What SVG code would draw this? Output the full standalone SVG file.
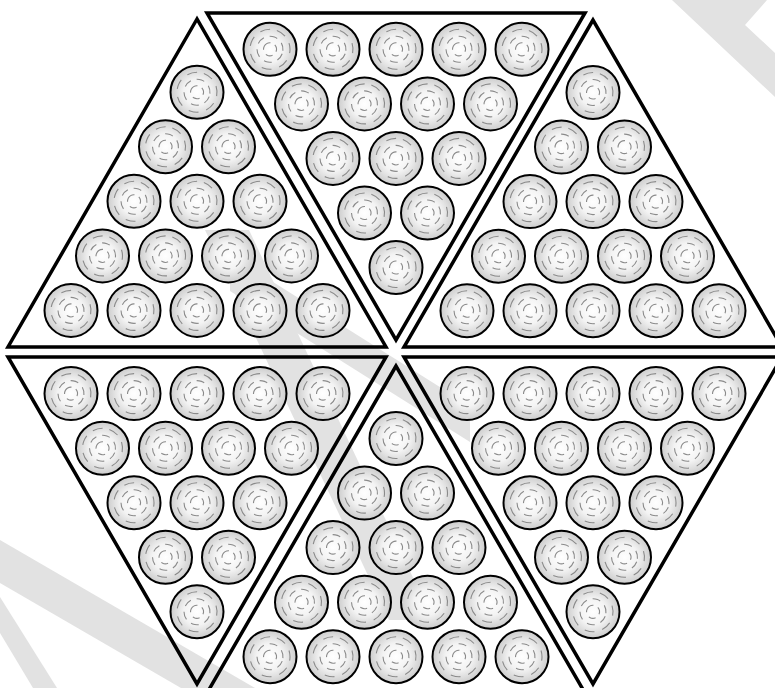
<svg xmlns="http://www.w3.org/2000/svg" xmlns:xlink="http://www.w3.org/1999/xlink" width="775" height="688" viewBox="0 0 775 688">
<style>
.tri{fill:none;stroke:#000;stroke-width:3.5;stroke-linejoin:miter}
.disc{fill:url(#g);stroke:#000;stroke-width:2}
.ring{fill:none;stroke:#8a8a8a;stroke-width:1.1}
.wm{fill:#e2e2e2}
</style>
<defs>
<radialGradient id="g" cx="50%" cy="50%" r="50%">
<stop offset="0" stop-color="#ffffff"/>
<stop offset="0.5" stop-color="#f3f3f3"/>
<stop offset="1" stop-color="#cdcdcd"/>
</radialGradient>
<symbol id="log" overflow="visible">
<circle class="disc" r="26.5"/>
<circle class="ring" r="20" stroke-dasharray="10 8" transform="rotate(-70)"/>
<circle class="ring" r="13" stroke-dasharray="8 6" transform="rotate(20)"/>
<circle class="ring" r="6.5" stroke-dasharray="7 5" transform="rotate(-150)"/>
</symbol>
</defs>
<rect width="775" height="688" fill="#fff"/>
<g id="watermark">
<polygon class="wm" points="0,540 255,688 181,688 0,583"/>
<polygon class="wm" points="0,597 57,688 33,688 0,633"/>
<polygon class="wm" points="672,0 767,0 745,25 775,53 775,97"/>
<polygon class="wm" points="205,230 249,230 433,620 389,620"/>
<polygon class="wm" points="230,255 470,406 470,442 230,291"/>
</g>
<g id="tri-top-left">
<polygon class="tri" points="197,19 8,347 386,347"/>
<use href="#log" x="197" y="92.2"/>
<use href="#log" x="165.5" y="146.8"/><use href="#log" x="228.5" y="146.8"/>
<use href="#log" x="134" y="201.3"/><use href="#log" x="197" y="201.3"/><use href="#log" x="260" y="201.3"/>
<use href="#log" x="102.5" y="255.9"/><use href="#log" x="165.5" y="255.9"/><use href="#log" x="228.5" y="255.9"/><use href="#log" x="291.5" y="255.9"/>
<use href="#log" x="71" y="310.4"/><use href="#log" x="134" y="310.4"/><use href="#log" x="197" y="310.4"/><use href="#log" x="260" y="310.4"/><use href="#log" x="323" y="310.4"/>
</g>
<g id="tri-top-middle">
<polygon class="tri" points="207,13 585,13 396,340"/>
<use href="#log" x="270" y="49.3"/><use href="#log" x="333" y="49.3"/><use href="#log" x="396" y="49.3"/><use href="#log" x="459" y="49.3"/><use href="#log" x="522" y="49.3"/>
<use href="#log" x="301.5" y="103.9"/><use href="#log" x="364.5" y="103.9"/><use href="#log" x="427.5" y="103.9"/><use href="#log" x="490.5" y="103.9"/>
<use href="#log" x="333" y="158.4"/><use href="#log" x="396" y="158.4"/><use href="#log" x="459" y="158.4"/>
<use href="#log" x="364.5" y="213"/><use href="#log" x="427.5" y="213"/>
<use href="#log" x="396" y="267.5"/>
</g>
<g id="tri-top-right">
<polygon class="tri" points="593,20 404,347 782,347"/>
<use href="#log" x="593" y="92.5"/>
<use href="#log" x="561.5" y="147.1"/><use href="#log" x="624.5" y="147.1"/>
<use href="#log" x="530" y="201.6"/><use href="#log" x="593" y="201.6"/><use href="#log" x="656" y="201.6"/>
<use href="#log" x="498.5" y="256.2"/><use href="#log" x="561.5" y="256.2"/><use href="#log" x="624.5" y="256.2"/><use href="#log" x="687.5" y="256.2"/>
<use href="#log" x="467" y="310.7"/><use href="#log" x="530" y="310.7"/><use href="#log" x="593" y="310.7"/><use href="#log" x="656" y="310.7"/><use href="#log" x="719" y="310.7"/>
</g>
<g id="tri-bottom-left">
<polygon class="tri" points="8,357 386,357 197,684"/>
<use href="#log" x="71" y="393.6"/><use href="#log" x="134" y="393.6"/><use href="#log" x="197" y="393.6"/><use href="#log" x="260" y="393.6"/><use href="#log" x="323" y="393.6"/>
<use href="#log" x="102.5" y="448.2"/><use href="#log" x="165.5" y="448.2"/><use href="#log" x="228.5" y="448.2"/><use href="#log" x="291.5" y="448.2"/>
<use href="#log" x="134" y="502.7"/><use href="#log" x="197" y="502.7"/><use href="#log" x="260" y="502.7"/>
<use href="#log" x="165.5" y="557.3"/><use href="#log" x="228.5" y="557.3"/>
<use href="#log" x="197" y="611.8"/>
</g>
<g id="tri-bottom-middle">
<polygon class="tri" points="396,366 207,693 585,693"/>
<use href="#log" x="396" y="438.5"/>
<use href="#log" x="364.5" y="493.1"/><use href="#log" x="427.5" y="493.1"/>
<use href="#log" x="333" y="547.6"/><use href="#log" x="396" y="547.6"/><use href="#log" x="459" y="547.6"/>
<use href="#log" x="301.5" y="602.2"/><use href="#log" x="364.5" y="602.2"/><use href="#log" x="427.5" y="602.2"/><use href="#log" x="490.5" y="602.2"/>
<use href="#log" x="270" y="656.7"/><use href="#log" x="333" y="656.7"/><use href="#log" x="396" y="656.7"/><use href="#log" x="459" y="656.7"/><use href="#log" x="522" y="656.7"/>
</g>
<g id="tri-bottom-right">
<polygon class="tri" points="404,357 782,357 593,684"/>
<use href="#log" x="467" y="393.6"/><use href="#log" x="530" y="393.6"/><use href="#log" x="593" y="393.6"/><use href="#log" x="656" y="393.6"/><use href="#log" x="719" y="393.6"/>
<use href="#log" x="498.5" y="448.2"/><use href="#log" x="561.5" y="448.2"/><use href="#log" x="624.5" y="448.2"/><use href="#log" x="687.5" y="448.2"/>
<use href="#log" x="530" y="502.7"/><use href="#log" x="593" y="502.7"/><use href="#log" x="656" y="502.7"/>
<use href="#log" x="561.5" y="557.3"/><use href="#log" x="624.5" y="557.3"/>
<use href="#log" x="593" y="611.8"/>
</g>
</svg>
